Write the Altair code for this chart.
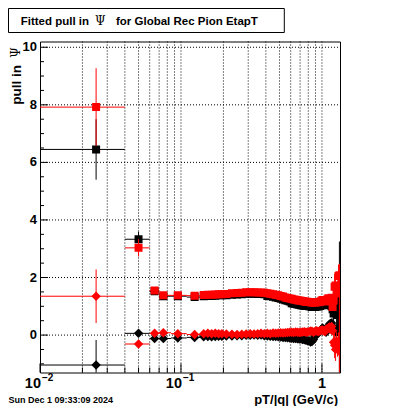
import altair as alt
import pandas as pd

# ---------------- data ----------------
x_first = [0.025, 0.05, 0.065, 0.075, 0.095, 0.125]
x_first_lo = [0.01, 0.04, 0.06, 0.07, 0.085, 0.11]
x_first_hi = [0.04, 0.06, 0.07, 0.085, 0.11, 0.14]

x_dense = [0.145, 0.155, 0.165, 0.175, 0.185, 0.195,
           0.21, 0.23, 0.25, 0.27, 0.29, 0.31, 0.33, 0.35, 0.37, 0.39,
           0.41, 0.43, 0.45, 0.47, 0.49, 0.51, 0.53, 0.55, 0.57, 0.59,
           0.61, 0.63, 0.65, 0.67, 0.69, 0.71, 0.73, 0.75, 0.77, 0.79,
           0.81, 0.83, 0.85, 0.87, 0.89, 0.91, 0.93, 0.95, 0.97, 0.99,
           1.01, 1.03, 1.05, 1.07, 1.09, 1.11, 1.13, 1.15, 1.17, 1.19,
           1.21, 1.23, 1.25, 1.27, 1.29, 1.31, 1.33]
x_dense_hw = [0.005] * 6 + [0.01] * 57

red_sq = [7.92, 3.03, 1.55, 1.38, 1.38, 1.37,
          1.39, 1.40, 1.40, 1.41, 1.42, 1.42,
          1.43, 1.45, 1.46, 1.47, 1.49, 1.49, 1.49, 1.48, 1.48, 1.47,
          1.45, 1.44, 1.42, 1.40, 1.38, 1.36, 1.34, 1.31, 1.29, 1.27,
          1.26, 1.24, 1.23, 1.21, 1.20, 1.19, 1.18, 1.17, 1.16, 1.16,
          1.15, 1.14, 1.13, 1.13, 1.13, 1.14, 1.15, 1.14, 1.16, 1.19,
          1.22, 1.20, 1.17, 1.21, 1.24, 1.28, 1.20, 1.25, 1.30, 0.98,
          1.20, 1.68, 1.72, 1.45, 1.60, 2.05, 2.08]
blk_sq = [6.45, 3.33, 1.52, 1.35, 1.35, 1.32,
          1.35, 1.36, 1.36, 1.37, 1.38, 1.38,
          1.38, 1.40, 1.41, 1.42, 1.44, 1.44, 1.44, 1.43, 1.43, 1.42,
          1.36, 1.35, 1.33, 1.31, 1.29, 1.26, 1.24, 1.21, 1.19, 1.17,
          1.11, 1.09, 1.08, 1.06, 1.05, 1.04, 1.03, 1.02, 1.01, 1.01,
          1.00, 0.99, 0.98, 0.98, 0.98, 0.99, 1.00, 0.99, 1.01, 1.04,
          1.08, 1.05, 1.04, 1.06, 1.10, 1.12, 1.10, 1.05, 1.00, 0.90,
          0.75, 1.05, 1.20, 0.70, 0.80, 0.72, 0.75]
red_di = [1.35, -0.31, 0.06, 0.08, 0.05, 0.02,
          0.05, 0.06, 0.05, 0.06, 0.05, 0.05,
          0.04, 0.03, 0.02, 0.03, 0.04, 0.05, 0.04, 0.05, 0.06, 0.05,
          0.06, 0.05, 0.07, 0.06, 0.07, 0.08, 0.07, 0.08, 0.09, 0.10,
          0.10, 0.09, 0.11, 0.10, 0.09, 0.10, 0.11, 0.12, 0.10, 0.11,
          0.12, 0.14, 0.13, 0.10, 0.12, 0.15, 0.13, 0.12, 0.16, 0.17,
          0.18, 0.15, 0.12, 0.20, 0.22, 0.25, 0.28, 0.20, 0.30, 0.15,
          -0.25, -0.35, -0.50, -0.20, -0.45, -0.30, -0.45]
blk_di = [-1.04, 0.06, -0.12, -0.12, -0.10, -0.08,
          -0.06, -0.05, -0.06, -0.05, -0.04, -0.04,
          -0.03, -0.03, -0.02, -0.02, -0.01, -0.01, 0.00, -0.01, 0.00, -0.02,
          -0.03, -0.04, -0.05, -0.05, -0.06, -0.07, -0.08, -0.08, -0.09, -0.10,
          -0.11, -0.12, -0.12, -0.13, -0.14, -0.14, -0.15, -0.16, -0.18, -0.20,
          -0.20, -0.24, -0.22, -0.15, -0.05, 0.00, 0.05, 0.10, 0.15, 0.20,
          0.25, 0.20, 0.15, 0.10, 0.18, 0.28, 0.38, 0.40, 0.42, 0.30,
          0.25, 0.22, 0.15, 0.10, 0.18, 0.15, 0.17]

red_sq_err = [1.35, 0.30, 0.06, 0.05, 0.05, 0.05] + [0.03] * 56 + [0.30, 0.45, 0.45, 0.30, 0.30, 0.40, 0.40]
blk_sq_err = [1.05, 0.26, 0.06, 0.05, 0.05, 0.05] + [0.03] * 56 + [0.30, 0.30, 0.40, 0.40, 0.50, 0.60, 2.50]
red_di_err = [0.93, 0.10, 0.05, 0.05, 0.05, 0.05] + [0.03] * 56 + [0.30, 0.45, 0.40, 0.30, 0.30, 0.40, 2.90]
blk_di_err = [0.87, 0.10, 0.05, 0.05, 0.05, 0.05] + [0.03] * 56 + [0.20, 0.20, 0.20, 0.20, 0.20, 0.20, 0.30]

x_grid = [0.02, 0.03, 0.04, 0.05, 0.06, 0.07, 0.08, 0.09, 0.1,
          0.2, 0.3, 0.4, 0.5, 0.6, 0.7, 0.8, 0.9, 1.0]
x_major = [0.01, 0.1, 1.0]
x_minor = [0.02, 0.03, 0.04, 0.05, 0.06, 0.07, 0.08, 0.09,
           0.2, 0.3, 0.4, 0.5, 0.6, 0.7, 0.8, 0.9]
y_major = [0, 2, 4, 6, 8, 10]
y_major_labels = ["0", "2", "4", "6", "8", "10"]
y_minor = [-1.0, -0.5, 0.5, 1.0, 1.5, 2.5, 3.0, 3.5, 4.5, 5.0, 5.5,
           6.5, 7.0, 7.5, 8.5, 9.0, 9.5]

# ---------------- build tables ----------------
x_center = x_first + x_dense
x_lo = x_first_lo + [c - h for c, h in zip(x_dense, x_dense_hw)]
x_hi = x_first_hi + [c + h for c, h in zip(x_dense, x_dense_hw)]


def table(vals, errs):
    return pd.DataFrame({
        "x": x_center, "xlo": x_lo, "xhi": x_hi, "y": vals,
        "ylo": [v - e for v, e in zip(vals, errs)],
        "yhi": [v + e for v, e in zip(vals, errs)],
    })


W, H = 300, 331
XS = alt.Scale(type="log", domain=[0.01, 1.343], nice=False)
YS = alt.Scale(domain=[-1.3, 10.2], nice=False, zero=False)


def X(f):
    return alt.X(f, type="quantitative", scale=XS, axis=None)


def Y(f):
    return alt.Y(f, type="quantitative", scale=YS, axis=None)


layers = []

# dotted grid
layers.append(alt.Chart(pd.DataFrame({"x": x_grid})).mark_rule(
    color="black", strokeWidth=1, strokeDash=[1, 2]).encode(
    x=X("x"), y=alt.value(0), y2=alt.value(H)))
layers.append(alt.Chart(pd.DataFrame({"y": y_major})).mark_rule(
    color="black", strokeWidth=1, strokeDash=[1, 2]).encode(
    y=Y("y"), x=alt.value(0), x2=alt.value(W)))


def series(vals, errs, color, shape, size):
    c = alt.Chart(table(vals, errs))
    hbar = c.mark_rule(color=color, strokeWidth=1, clip=True).encode(
        x=X("xlo"), x2="xhi", y=Y("y"))
    vbar = c.mark_rule(color=color, strokeWidth=1, clip=True).encode(
        x=X("x"), y=Y("ylo"), y2="yhi")
    pts = c.mark_point(shape=shape, filled=True, size=size, color=color,
                       opacity=1, clip=True).encode(x=X("x"), y=Y("y"))
    return [hbar, vbar, pts]


layers += series(blk_sq, blk_sq_err, "#000000", "square", 64)
layers += series(red_sq, red_sq_err, "#ff0000", "square", 64)
layers += series(blk_di, blk_di_err, "#000000", "diamond", 90)
layers += series(red_di, red_di_err, "#ff0000", "diamond", 90)

# inward ticks
layers += [
    alt.Chart(pd.DataFrame({"x": x_major})).mark_rule(color="black").encode(
        x=X("x"), y=alt.value(H), y2=alt.value(H - 9)),
    alt.Chart(pd.DataFrame({"x": x_minor})).mark_rule(color="black").encode(
        x=X("x"), y=alt.value(H), y2=alt.value(H - 5)),
    alt.Chart(pd.DataFrame({"y": y_major})).mark_rule(color="black").encode(
        y=Y("y"), x=alt.value(0), x2=alt.value(8)),
    alt.Chart(pd.DataFrame({"y": y_minor})).mark_rule(color="black").encode(
        y=Y("y"), x=alt.value(0), x2=alt.value(4)),
]

# y tick labels
layers.append(alt.Chart(pd.DataFrame({"y": y_major, "t": y_major_labels})).mark_text(
    align="right", baseline="middle", font="Liberation Sans", fontWeight="bold",
    fontSize=13, color="black").encode(y=Y("y"), x=alt.value(-3), text="t:N"))

# x tick labels 10^n
LB = H + 15.5
dec_df = pd.DataFrame({"x": [0.01, 0.1], "base": ["10", "10"], "sup": ["\u22122", "\u22121"]})
layers += [
    alt.Chart(dec_df).mark_text(align="right", baseline="alphabetic", dx=1,
                                font="Liberation Sans", fontWeight="bold", fontSize=14.5,
                                color="black").encode(x=X("x"), y=alt.value(LB), text="base:N"),
    alt.Chart(dec_df).mark_text(align="left", baseline="alphabetic", dx=2,
                                font="Liberation Sans", fontWeight="bold", fontSize=10,
                                color="black").encode(x=X("x"), y=alt.value(LB - 7), text="sup:N"),
    alt.Chart(pd.DataFrame({"x": [1.0], "t": ["1"]})).mark_text(
        align="center", baseline="alphabetic", font="Liberation Sans", fontWeight="bold",
        fontSize=14.5, color="black").encode(x=X("x"), y=alt.value(LB), text="t:N"),
]

one = pd.DataFrame({"a": [0]})


def txt(s, x, y, **kw):
    return alt.Chart(one).mark_text(text=s, color="black", **kw).encode(
        x=alt.value(x), y=alt.value(y))


layers += [
    alt.Chart(one).mark_rect(fill="white", stroke="black", strokeWidth=1).encode(
        x=alt.value(-31.5), x2=alt.value(244.3), y=alt.value(-33), y2=alt.value(-9)),
    txt("Fitted pull in", -19.3, -16.5, align="left", baseline="alphabetic",
        font="Liberation Sans", fontWeight="bold", fontSize=11.5),
    txt("\u03a8", 60.3, -16.5, align="center", baseline="alphabetic",
        font="DejaVu Serif", fontSize=12),
    txt("for Global Rec Pion EtapT", 76, -16.5, align="left", baseline="alphabetic",
        font="Liberation Sans", fontWeight="bold", fontSize=11.5),
    txt("pull in", -23.3, 23.5, align="right", baseline="middle", angle=270,
        font="Liberation Sans", fontWeight="bold", fontSize=13.5),
    txt("\u03a8", -24.2, 11, align="center", baseline="middle", angle=270,
        font="DejaVu Serif", fontSize=12),
    txt("pT/|q| (GeV/c)", 298, 362, align="right", baseline="alphabetic",
        font="Liberation Sans", fontWeight="bold", fontSize=13),
    txt("Sun Dec  1 09:33:09 2024", -31.5, 361.5, align="left", baseline="alphabetic",
        font="Liberation Sans", fontWeight="bold", fontSize=9),
]

chart = alt.layer(*layers).properties(
    width=W, height=H,
    autosize=alt.AutoSizeParams(type="none"),
    padding={"left": 32, "top": 33.5, "right": 52, "bottom": 33.5},
    background="white",
).configure_view(stroke="black", strokeWidth=1)

chart.save("out.html", embed_options={"renderer": "svg", "actions": False})
